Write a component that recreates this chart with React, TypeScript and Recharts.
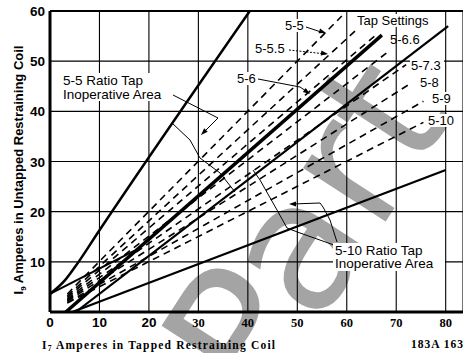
import React from 'react';
import { LineChart, Line, XAxis, YAxis, CartesianGrid, ReferenceLine } from 'recharts';

const xTicks = [0, 10, 20, 30, 40, 50, 60, 70, 80];
const yTicks = [0, 10, 20, 30, 40, 50, 60];

// dashed tap setting lines, start / end points (I7, I9)
const tapNames = ['5-5', '5-5.5', '5-6', '5-6.6', '5-7.3', '5-8', '5-9', '5-10'];
const tapStartX = [3.5, 3.5, 3.5, 3.5, 3.5, 3.5, 3.5, 3.5];
const tapStartY = [3.6, 3.2, 2.9, 2.6, 2.4, 2.2, 1.9, 1.8];
const tapEndX = [59, 62, 66, 68, 72, 72.5, 75.5, 75.5];
const tapEndY = [59, 56.3, 55.3, 51.6, 49.3, 45.3, 42.0, 37.8];

// solid boundary lines
const steepX = [0, 3, 5, 10, 40.4];
const steepY = [3.6, 6.3, 8.9, 16.3, 60];
const kneeX = [0, 17];
const kneeY = [3.6, 12.2];
const thickX = [3.2, 67.1];
const thickY = [0, 55.2];
const thinX = [5.2, 80.5];
const thinY = [0, 57];
const lowX = [4.5, 80];
const lowY = [0, 28.3];

const pts = (xs: number[], ys: number[]) => xs.map((x, i) => ({ x, y: ys[i] }));

const sans = '"Liberation Sans", Arial, Helvetica, sans-serif';
const serif = '"Liberation Serif", "Times New Roman", serif';

const XTick = (props: any) => {
  const { x, y, payload } = props;
  const v = payload.value;
  const s = v >= 30;
  return (
    <text x={x} y={y + 7} textAnchor="middle" fontFamily={s ? serif : sans} fontWeight="bold"
      fontSize={s ? 12.5 : 13.5} fill="#000">{v}</text>
  );
};

const YTick = (props: any) => {
  const { x, y, payload } = props;
  if (payload.value === 0) return <g />;
  return (
    <text x={x + 3} y={y + 5} textAnchor="end" fontFamily={sans} fontWeight="bold" fontSize={13.5} fill="#000">
      {payload.value}
    </text>
  );
};

const Lbl = ({ x, y, t, w, h = 12 }: { x: number; y: number; t: string; w: number; h?: number }) => (
  <g>
    {w > 0 && <rect x={x - 1} y={y - h + 1} width={w} height={h + 1} fill="#fff" />}
    <text x={x} y={y} fontFamily={sans} fontSize={13} fill="#000">{t}</text>
  </g>
);

const Arrow = ({ x, y, a }: { x: number; y: number; a: number }) => (
  <polygon points="0,0 -7,-2.5 -7,2.5" fill="#000" transform={`translate(${x},${y}) rotate(${a})`} />
);

export default function App() {
  return (
    <div style={{ position: 'absolute', left: 0, top: 0, width: 463, height: 353, background: '#fff', overflow: 'hidden' }}>
      <svg width={463} height={353} style={{ position: 'absolute', left: 0, top: 0 }}>
        <text x={0} y={0} fontFamily='"DejaVu Sans", sans-serif' fontSize={180} fill="#a4a4a4"
          transform="translate(262,412) rotate(-57)">Part</text>
      </svg>
      <div style={{ position: 'absolute', left: 0, top: 0 }}>
        <LineChart width={463} height={353} margin={{ top: 11, right: 0, left: 0, bottom: 0 }}>
          <CartesianGrid stroke="#000" strokeWidth={1.1} fill="none" />
          <XAxis type="number" dataKey="x" domain={[0, 83.5]} ticks={xTicks} allowDataOverflow
            height={41} tickLine={false} axisLine={{ stroke: '#000', strokeWidth: 3 }} tick={XTick} />
          <YAxis type="number" domain={[0, 60]} ticks={yTicks} allowDataOverflow width={50}
            tickLine={false} axisLine={{ stroke: '#000', strokeWidth: 3 }} tick={YTick} />
          <ReferenceLine y={60} stroke="#000" strokeWidth={2} />
          {tapNames.map((n, i) => (
            <Line key={n} data={pts([tapStartX[i], tapEndX[i]], [tapStartY[i], tapEndY[i]])} dataKey="y"
              type="linear" stroke="#000" strokeWidth={1.6} strokeDasharray="7 5" dot={false} isAnimationActive={false} />
          ))}
          <Line data={pts(steepX, steepY)} dataKey="y" type="monotone" stroke="#000" strokeWidth={2.5} dot={false} isAnimationActive={false} />
          <Line data={pts(kneeX, kneeY)} dataKey="y" type="linear" stroke="#000" strokeWidth={2} dot={false} isAnimationActive={false} />
          <Line data={pts(thickX, thickY)} dataKey="y" type="linear" stroke="#000" strokeWidth={3.5} dot={false} isAnimationActive={false} />
          <Line data={pts(thinX, thinY)} dataKey="y" type="linear" stroke="#000" strokeWidth={2.2} dot={false} isAnimationActive={false} />
          <Line data={pts(lowX, lowY)} dataKey="y" type="linear" stroke="#000" strokeWidth={2.2} dot={false} isAnimationActive={false} />
        </LineChart>
      </div>
      <svg width={463} height={353} style={{ position: 'absolute', left: 0, top: 0 }}>
        {/* leaders */}
        <g fill="none" stroke="#000" strokeWidth={1}>
          <polyline points="306,27 324,33" />
          <polyline points="289,50 326,54" strokeDasharray="2 1.5" />
          <polyline points="258,79 300,87 309,93" />
          <polyline points="173,95 218,118 203,133" />
          <polyline points="172,123 190,140 200,158 220,173 235,192" />
          <polyline points="337,242 330,220 323,207 320,203 292,204" />
          <polyline points="334,245 300,233 287,228 277,210 260,180 253,170" />
        </g>
        <Arrow x={326} y={33} a={18} />
        <Arrow x={328} y={54} a={8} />
        <Arrow x={310} y={94} a={35} />
        <Arrow x={201} y={135} a={135} />
        <Arrow x={289} y={204} a={180} />

        <Lbl x={285} y={30} t="5-5" w={22} />
        <Lbl x={255} y={53} t="5-5.5" w={34} />
        <Lbl x={237} y={83} t="5-6" w={22} />
        <Lbl x={357} y={25} t="Tap Settings" w={82} />
        <Lbl x={390} y={44} t="5-6.6" w={0} />
        <Lbl x={411} y={70} t="5-7.3" w={34} />
        <Lbl x={420} y={87} t="5-8" w={22} />
        <Lbl x={432} y={103} t="5-9" w={22} />
        <Lbl x={428} y={125} t="5-10" w={30} />

        <rect x={61} y={73} width={112} height={28} fill="#fff" />
        <text x={63} y={85} fontFamily={sans} fontSize={13.5} fill="#000">5-5 Ratio Tap</text>
        <text x={63} y={99} fontFamily={sans} fontSize={13.5} fill="#000">Inoperative Area</text>

        <rect x={333} y={243} width={112} height={28} fill="#fff" />
        <text x={335} y={255} fontFamily={sans} fontSize={13.5} fill="#000">5-10 Ratio Tap</text>
        <text x={335} y={268} fontFamily={sans} fontSize={13.5} fill="#000">Inoperative Area</text>

        {/* axis titles */}
        <text transform="translate(23,170) rotate(-90)" textAnchor="middle" fontFamily={sans} fontWeight="bold" fontSize={13} fill="#000">
          I<tspan fontSize={8} dy={3}>9</tspan><tspan dy={-3}> Amperes in Untapped Restraining Coil</tspan>
        </text>
        <text x={42} y={349} fontFamily={serif} fontWeight="bold" fontSize={11.5} letterSpacing={1.2} fill="#000">
          I<tspan fontSize={7.5} dy={2}>7</tspan><tspan dy={-2}> Amperes in Tapped Restraining Coil</tspan>
        </text>
        <text x={411} y={348} fontFamily={serif} fontWeight="bold" fontSize={11.5} letterSpacing={1} fill="#000">183A 163</text>
      </svg>
    </div>
  );
}
